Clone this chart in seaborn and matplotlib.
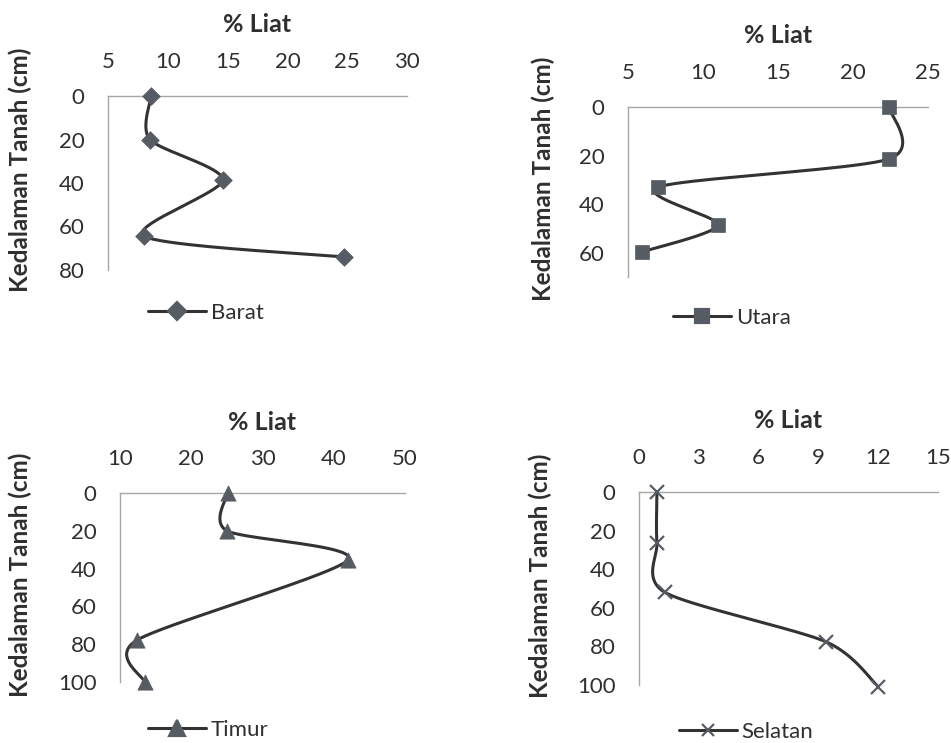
import numpy as np
import pandas as pd
import matplotlib
matplotlib.use("Agg")
import matplotlib.pyplot as plt
from matplotlib.lines import Line2D
import seaborn as sns

sns.set_theme(style="white")
plt.rcParams['font.family'] = ['Lato', 'DejaVu Sans']

# ---- data ----
barat_liat = [8.6, 8.5, 14.6, 8.0, 24.7]
barat_depth = [0, 20, 38.6, 64.4, 74]
utara_liat = [22.4, 22.4, 7.0, 11.0, 5.9]
utara_depth = [0, 21.4, 33, 48.6, 59.7]
timur_liat = [25.1, 25.0, 42.0, 12.4, 13.5]
timur_depth = [0, 20, 35.4, 77.8, 100]
selatan_liat = [0.9, 0.9, 1.3, 9.4, 12.0]
selatan_depth = [0, 26.4, 52, 77.7, 101]

x_label = "% Liat"
y_label = "Kedalaman Tanah (cm)"

W, H = 951, 743
fig = plt.figure(figsize=(W / 100, H / 100), dpi=100)

def px_axes(l, r, t, b):
    return fig.add_axes([l / W, 1 - b / H, (r - l) / W, (b - t) / H])

LINE_C = "#333333"
MARK_C = "#575c64"
TEXT_C = "#2f2f2f"
AXIS_C = "#a6a6a6"

def smooth(xs, ys, xlim, ylim, wpx, hpx, n=40, k=7.5):
    # Excel-like smoothed line (Bezier through points), computed in pixel space
    px = (np.array(xs) - xlim[0]) / (xlim[1] - xlim[0]) * wpx
    py = (np.array(ys) - ylim[0]) / (ylim[1] - ylim[0]) * hpx
    P = np.column_stack([px, py])
    m = len(P)
    out = [P[0]]
    for i in range(m - 1):
        p0 = P[i - 1] if i > 0 else P[i]
        p1 = P[i]
        p2 = P[i + 1]
        p3 = P[i + 2] if i + 2 < m else P[i + 1]
        c1 = p1 + (p2 - p0) / k
        c2 = p2 - (p3 - p1) / k
        t = np.linspace(0, 1, n)[1:, None]
        seg = ((1 - t) ** 3) * p1 + 3 * ((1 - t) ** 2) * t * c1 + 3 * (1 - t) * t ** 2 * c2 + t ** 3 * p2
        out.extend(seg)
    out = np.array(out)
    sx = out[:, 0] / wpx * (xlim[1] - xlim[0]) + xlim[0]
    sy = out[:, 1] / hpx * (ylim[1] - ylim[0]) + ylim[0]
    return sx, sy

panels = [
    dict(liat=barat_liat, depth=barat_depth, name="Barat", marker="D", ms=9,
         box=(108, 407, 96, 270), xlim=(5, 30), xt=[5, 10, 15, 20, 25, 30],
         ylim=(0, 80), yt=[0, 20, 40, 60, 80], ylab_x=20, leg=(206, 313)),
    dict(liat=utara_liat, depth=utara_depth, name="Utara", marker="s", ms=10,
         box=(628, 928, 107, 277), xlim=(5, 25), xt=[5, 10, 15, 20, 25],
         ylim=(0, 70), yt=[0, 20, 40, 60], ylab_x=543, leg=(732, 318)),
    dict(liat=timur_liat, depth=timur_depth, name="Timur", marker="^", ms=11,
         box=(120, 405, 493, 682), xlim=(10, 50), xt=[10, 20, 30, 40, 50],
         ylim=(0, 100), yt=[0, 20, 40, 60, 80, 100], ylab_x=20, leg=(208, 730)),
    dict(liat=selatan_liat, depth=selatan_depth, name="Selatan", marker="x", ms=10,
         box=(639, 938, 492, 685), xlim=(0, 15), xt=[0, 3, 6, 9, 12, 15],
         ylim=(0, 100), yt=[0, 20, 40, 60, 80, 100], ylab_x=540, leg=(746, 732)),
]

for p in panels:
    l, r, t, b = p["box"]
    ax = px_axes(l, r, t, b)
    sx, sy = smooth(p["liat"], p["depth"], p["xlim"], p["ylim"], r - l, b - t)
    sns.lineplot(x=sx, y=sy, sort=False, ax=ax, color=LINE_C, lw=2.2, estimator=None)
    df = pd.DataFrame({"liat": p["liat"], "depth": p["depth"]})
    if p["marker"] == "x":
        ax.plot(df["liat"], df["depth"], ls="none", marker="x", ms=p["ms"],
                mew=1.6, color=MARK_C, clip_on=False, zorder=5)
    else:
        sns.scatterplot(data=df, x="liat", y="depth", ax=ax, marker=p["marker"],
                        s=p["ms"] ** 2, color=MARK_C, edgecolor=MARK_C,
                        linewidth=0.5, clip_on=False, zorder=5)
    ax.set_xlim(*p["xlim"])
    ax.set_ylim(p["ylim"][1], p["ylim"][0])
    ax.set_xticks(p["xt"])
    ax.set_yticks(p["yt"])
    ax.xaxis.tick_top()
    ax.tick_params(axis="both", length=0, pad=17, labelsize=16, labelcolor=TEXT_C)
    ax.set_xlabel("")
    ax.set_ylabel("")
    for s in ["right", "bottom"]:
        ax.spines[s].set_visible(False)
    for s in ["top", "left"]:
        ax.spines[s].set_visible(True)
        ax.spines[s].set_color(AXIS_C)
        ax.spines[s].set_linewidth(1.0)
    ax.set_facecolor("none")
    ax.annotate(x_label, xy=(0.5, 1), xycoords="axes fraction",
                xytext=(0, 71 * 0.72), textcoords="offset points",
                ha="center", va="center", fontsize=18, fontweight="bold",
                color=TEXT_C)
    cy = (t + b) / 2 - 13
    fig.text(p["ylab_x"] / W, 1 - cy / H, y_label, rotation=90, ha="center",
             va="center", fontsize=17.5, fontweight="bold", color=TEXT_C)
    handle = Line2D([0], [0], color=LINE_C, lw=2.2, marker=p["marker"],
                    ms=p["ms"] if p["marker"] != "x" else 9,
                    markerfacecolor=MARK_C, markeredgecolor=MARK_C, mew=1.6)
    lx, ly = p["leg"]
    fig.legend(handles=[handle], labels=[p["name"]], loc="center",
               bbox_to_anchor=(lx / W, 1 - ly / H), frameon=False,
               prop=dict(size=16), handlelength=2.6,
               handletextpad=0.2, labelcolor=TEXT_C)

fig.savefig("out.png", dpi=100, facecolor="white")
